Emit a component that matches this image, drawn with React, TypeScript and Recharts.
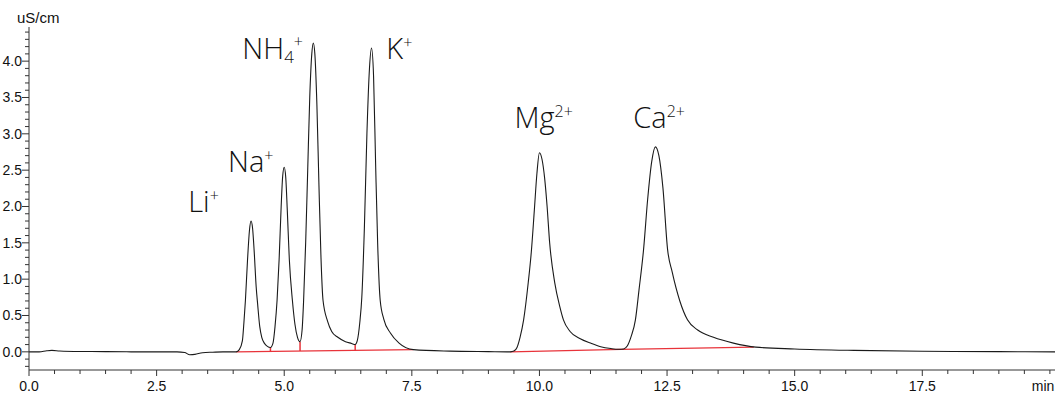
import React from 'react';
import { ComposedChart, Line, XAxis, YAxis, ReferenceLine, ReferenceDot } from 'recharts';

// Retention time (min) and conductivity (uS/cm)
const times = [
  0, 0.2, 0.35, 0.45, 0.6, 1.0, 1.5, 2.0, 2.5, 2.9, 3.05, 3.15, 3.25, 3.4, 3.6, 3.8, 4.0,
  4.06, 4.12, 4.18, 4.21, 4.24, 4.28, 4.32, 4.35, 4.38, 4.41, 4.45, 4.48, 4.52, 4.56, 4.61, 4.67, 4.73,
  4.78, 4.82, 4.86, 4.9, 4.94, 4.97, 5.0, 5.03, 5.06, 5.1, 5.16, 5.21, 5.26, 5.31,
  5.35, 5.38, 5.42, 5.46, 5.5, 5.54, 5.57, 5.6, 5.64, 5.68, 5.72, 5.76, 5.85, 5.93, 6.05, 6.2, 6.32, 6.39,
  6.43, 6.48, 6.52, 6.57, 6.62, 6.67, 6.71, 6.75, 6.79, 6.83, 6.88, 6.95, 7.08, 7.25, 7.53, 8.25, 9.0, 9.43,
  9.5, 9.56, 9.62, 9.69, 9.78, 9.84, 9.9, 9.95, 10.0, 10.05, 10.1, 10.15, 10.2, 10.3, 10.4, 10.47, 10.6, 10.8, 11.0, 11.2, 11.4, 11.55,
  11.65, 11.72, 11.8, 11.88, 11.95, 12.04, 12.12, 12.2, 12.27, 12.34, 12.42, 12.51, 12.6, 12.75, 12.9, 13.1, 13.41, 13.8, 14.24, 15.0, 16.16, 17.5, 19.0, 20.1,
];
const conductivity = [
  0.0, 0.0, 0.015, 0.02, 0.012, 0.005, 0.003, 0.0, 0.0, 0.0, -0.01, -0.04, -0.035, -0.012, -0.005, 0.0, 0.0,
  0.0, 0.03, 0.15, 0.4, 0.71, 1.25, 1.68, 1.8, 1.7, 1.4, 0.9, 0.65, 0.35, 0.2, 0.12, 0.075, 0.06,
  0.12, 0.35, 0.71, 1.27, 2.0, 2.42, 2.54, 2.4, 1.95, 1.27, 0.71, 0.38, 0.2, 0.14,
  0.3, 0.71, 1.5, 2.5, 3.5, 4.1, 4.25, 4.1, 3.4, 2.3, 1.3, 0.71, 0.42, 0.28, 0.2, 0.14, 0.115, 0.1,
  0.15, 0.4, 0.75, 1.7, 3.0, 3.9, 4.18, 3.8, 2.6, 1.5, 0.71, 0.45, 0.26, 0.12, 0.03, 0.01, 0.003, 0.0,
  0.01, 0.06, 0.2, 0.44, 0.95, 1.37, 1.95, 2.45, 2.74, 2.65, 2.4, 2.0, 1.5, 0.95, 0.62, 0.44, 0.28, 0.18, 0.12, 0.07, 0.045, 0.035,
  0.04, 0.08, 0.22, 0.44, 0.85, 1.41, 2.1, 2.62, 2.82, 2.7, 2.25, 1.41, 1.1, 0.7, 0.44, 0.3, 0.2, 0.12, 0.065, 0.04, 0.02, 0.008, 0.003, 0.0,
];

// Integration baselines (red) and valley drop lines
const baselineStartT = [4.06, 9.43, 11.6];
const baselineStartV = [0.0, 0.0, 0.035];
const baselineEndT = [7.53, 11.6, 14.2];
const baselineEndV = [0.03, 0.035, 0.065];
const dropT = [4.73, 5.31, 6.39];
const dropLowV = [0.005, 0.012, 0.02];
const dropHighV = [0.06, 0.14, 0.1];

// Peak labels
const peakNames = ['Li', 'Na', 'NH', 'K', 'Mg', 'Ca'];
const peakSub = ['', '', '4', '', '', ''];
const peakCharge = ['+', '+', '+', '+', '2+', '2+'];
const labelT = [3.12, 3.9, 4.18, 7.0, 9.51, 11.84];
const labelV = [1.92, 2.47, 4.03, 4.03, 3.08, 3.08];

const xMajorTicks = [0, 2.5, 5, 7.5, 10, 12.5, 15, 17.5];
const xAllTicks = Array.from({ length: 41 }, (_, i) => i / 2);
const yAllTicks = Array.from({ length: 47 }, (_, i) => (i - 2) / 10);

const data = times.map((t, i) => ({ t, v: conductivity[i] }));

const AX = '#333';
const TICK_FONT = '"Liberation Sans", Arial, sans-serif';

const isMajorX = (v: number) => xMajorTicks.some((m) => Math.abs(m - v) < 1e-6);
const isMajorY = (v: number) => Math.abs(v * 2 - Math.round(v * 2)) < 1e-6;

const XTick = (props: any) => {
  const { x, y, payload } = props;
  const v = payload.value as number;
  const major = isMajorX(v);
  return (
    <g>
      <line x1={x} y1={y} x2={x} y2={y + (major ? 6 : 4)} stroke={AX} strokeWidth={1} />
      {major && (
        <text x={x} y={y + 21} textAnchor="middle" fontSize={14} fontFamily={TICK_FONT} fill="#111">
          {v.toFixed(1)}
        </text>
      )}
    </g>
  );
};

const YTick = (props: any) => {
  const { x, y, payload } = props;
  const v = payload.value as number;
  const major = isMajorY(v);
  return (
    <g>
      <line x1={x} y1={y} x2={x - (major ? 7 : 4)} y2={y} stroke={AX} strokeWidth={1} />
      {major && (
        <text x={x - 7} y={y + 5} textAnchor="end" fontSize={14} fontFamily={TICK_FONT} fill="#111">
          {(Math.abs(v) < 1e-9 ? 0 : v).toFixed(1)}
        </text>
      )}
    </g>
  );
};

const LABEL_FONT = '"Open Sans", "Noto Sans", sans-serif';

const makePeakLabel = (i: number) => (p: any) => (
  <text x={p.cx} y={p.cy} fontSize={29} fontFamily={LABEL_FONT} fontWeight={300} fill="#111">
    <tspan>{peakNames[i]}</tspan>
    {peakSub[i] && (
      <tspan fontSize={17} dy={4}>
        {peakSub[i]}
      </tspan>
    )}
    <tspan fontSize={16} dy={peakSub[i] ? -16 : -11}>
      {peakCharge[i]}
    </tspan>
  </text>
);

export default function App() {
  return (
    <div style={{ width: 1056, height: 393 }}>
      <style>{`body{margin:0}`}</style>
      <ComposedChart width={1056} height={393} data={data} margin={{ top: 27, right: 1, bottom: 0, left: 0 }}>
        <XAxis
          dataKey="t"
          type="number"
          domain={[0, 20.1]}
          allowDataOverflow
          ticks={xAllTicks}
          interval={0}
          tick={<XTick />}
          tickLine={false}
          tickSize={0}
          tickMargin={0}
          height={23}
          axisLine={{ stroke: AX }}
          label={{
            content: () => (
              <text x={1043} y={391} textAnchor="middle" fontSize={14} fontFamily={TICK_FONT} fill="#111">
                min
              </text>
            ),
          }}
        />
        <XAxis
          xAxisId="top"
          dataKey="t"
          type="number"
          domain={[0, 20.1]}
          orientation="top"
          height={0}
          tick={false}
          tickLine={false}
          axisLine={{ stroke: AX }}
        />
        <YAxis
          type="number"
          domain={[-0.25, 4.47]}
          allowDataOverflow
          ticks={yAllTicks}
          interval={0}
          tick={<YTick />}
          tickLine={false}
          tickSize={0}
          tickMargin={0}
          width={29}
          axisLine={{ stroke: AX }}
          label={{
            content: () => (
              <text x={17} y={23} fontSize={15} fontFamily={TICK_FONT} fill="#111">
                uS/cm
              </text>
            ),
          }}
        />
        <YAxis
          yAxisId="right"
          type="number"
          domain={[-0.25, 4.47]}
          orientation="right"
          width={0}
          tick={false}
          tickLine={false}
          axisLine={{ stroke: AX }}
        />
        {baselineStartT.map((t, i) => (
          <ReferenceLine
            key={'b' + i}
            segment={[
              { x: t, y: baselineStartV[i] },
              { x: baselineEndT[i], y: baselineEndV[i] },
            ]}
            stroke="#e8333a"
            strokeWidth={1.2}
          />
        ))}
        {dropT.map((t, i) => (
          <ReferenceLine
            key={'d' + i}
            segment={[
              { x: t, y: dropLowV[i] },
              { x: t, y: dropHighV[i] },
            ]}
            stroke="#e8333a"
            strokeWidth={1.5}
          />
        ))}
        <Line
          dataKey="v"
          type="monotone"
          stroke="#1a1a1a"
          strokeWidth={1.1}
          dot={false}
          isAnimationActive={false}
        />
        {peakNames.map((_, i) => (
          <ReferenceDot key={'l' + i} x={labelT[i]} y={labelV[i]} r={0} shape={makePeakLabel(i)} />
        ))}
      </ComposedChart>
    </div>
  );
}
